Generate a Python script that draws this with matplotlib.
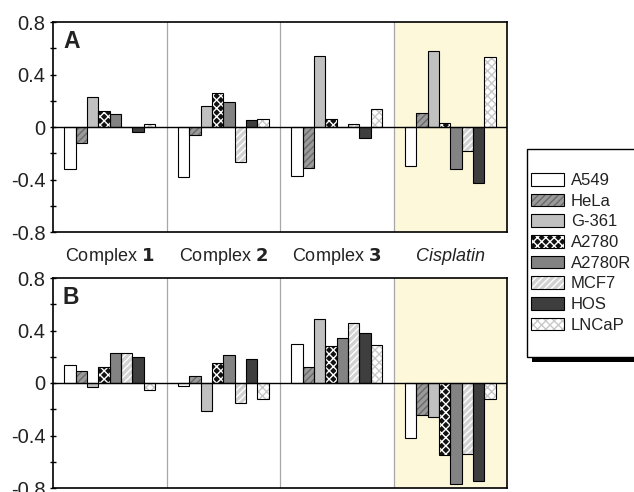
import numpy as np
import matplotlib
matplotlib.use("Agg")
import matplotlib.pyplot as plt
from matplotlib.patches import Rectangle, Patch

plt.rcParams['font.family'] = ['Liberation Sans', 'DejaVu Sans']
plt.rcParams['hatch.linewidth'] = 1.0

groups = ["Complex $\\mathbf{1}$", "Complex $\\mathbf{2}$", "Complex $\\mathbf{3}$", "Cisplatin"]
cells = ["A549", "HeLa", "G-361", "A2780", "A2780R", "MCF7", "HOS", "LNCaP"]

# rows = cell lines, columns = Complex 1, 2, 3, Cisplatin
vals_a = [
    [-0.32, -0.38, -0.37, -0.30],   # A549
    [-0.12, -0.06, -0.31, 0.11],    # HeLa
    [0.23, 0.16, 0.54, 0.58],       # G-361
    [0.12, 0.26, 0.06, 0.03],       # A2780
    [0.10, 0.19, 0.00, -0.32],      # A2780R
    [0.00, -0.27, 0.02, -0.18],     # MCF7
    [-0.04, 0.05, -0.08, -0.43],    # HOS
    [0.02, 0.06, 0.14, 0.53],       # LNCaP
]
vals_b = [
    [0.14, -0.02, 0.30, -0.42],
    [0.09, 0.05, 0.12, -0.24],
    [-0.03, -0.21, 0.49, -0.26],
    [0.12, 0.15, 0.28, -0.55],
    [0.23, 0.21, 0.34, -0.77],
    [0.23, -0.15, 0.46, -0.54],
    [0.20, 0.18, 0.38, -0.75],
    [-0.05, -0.12, 0.29, -0.12],
]

# face colour, hatch, hatch colour
styles = [
    ("white", "", "white"),
    ("#9a9a9a", "/////", "#6a6a6a"),
    ("#c0c0c0", "", "#c0c0c0"),
    ("#111111", "xxxx", "white"),
    ("#838383", "", "#838383"),
    ("#d2d2d2", "/////", "white"),
    ("#3e3e3e", "", "#3e3e3e"),
    ("white", "xxxx", "#c8c8c8"),
]

W, H = 634, 492
fig = plt.figure(figsize=(W / 100, H / 100), dpi=100)
ax_a = fig.add_axes([53 / W, 1 - 232 / H, 454 / W, 210 / H])
ax_b = fig.add_axes([53 / W, 1 - 488 / H, 454 / W, 210 / H])

x = np.arange(len(groups))
bw = 0.1

for ax, data, letter in [(ax_a, vals_a, "A"), (ax_b, vals_b, "B")]:
    ax.axvspan(2.5, 3.5, color="#fdf8d9", zorder=0)
    for d in [0.5, 1.5, 2.5]:
        ax.axvline(d, color="#a8a8a8", lw=0.9, zorder=1)
    for i, v in enumerate(data):
        fc, hatch, hc = styles[i]
        pos = x + (i - 3.5) * bw
        ax.bar(pos, v, bw, color=fc, hatch=hatch, edgecolor=hc, linewidth=0, zorder=2)
        ax.bar(pos, v, bw, facecolor="none", edgecolor="black", linewidth=0.8, zorder=3)
    ax.axhline(0, color="black", lw=1.0, zorder=4)
    ax.set_xlim(-0.5, 3.5)
    ax.set_ylim(-0.8, 0.8)
    ax.set_xticks([])
    ax.set_yticks(np.arange(-0.8, 0.81, 0.2))
    ax.set_yticklabels(["-0.8", "", "-0.4", "", "0", "", "0.4", "", "0.8"])
    ax.tick_params(axis="y", direction="inout", length=5, width=1, labelsize=14.5,
                   pad=3, labelcolor="#222222")
    for s in ax.spines.values():
        s.set_linewidth(1.2)
    ax.text(0.022, 0.96, letter, transform=ax.transAxes, fontsize=16.5, fontweight="bold",
            va="top", ha="left", color="#222222")

for g, lab in zip(x, groups):
    st = "italic" if lab == "Cisplatin" else "normal"
    ax_a.text(g, -0.115, lab, transform=ax_a.get_xaxis_transform(), ha="center",
              va="center", fontsize=13, style=st, color="#222222")

# legend box with shadow
fig.patches.append(Rectangle((532 / W, 1 - 362 / H), 120 / W, 210 / H, transform=fig.transFigure,
                             facecolor="black", edgecolor="none", zorder=1))
fig.patches.append(Rectangle((527 / W, 1 - 357 / H), 120 / W, 208 / H, transform=fig.transFigure,
                             facecolor="white", edgecolor="black", linewidth=1, zorder=2))

handles = []
for fc, hatch, hc in styles:
    handles.append((Patch(facecolor=fc, hatch=hatch, edgecolor=hc, linewidth=0),
                    Patch(facecolor="none", edgecolor="black", linewidth=0.8)))
leg = fig.legend(handles, cells, loc="upper left", bbox_to_anchor=(531 / W, 1 - 173 / H),
                 frameon=False, fontsize=12, handlelength=2.0, handleheight=0.8,
                 labelspacing=0.33, handletextpad=0.4, borderpad=0, borderaxespad=0)
for t in leg.get_texts():
    t.set_color("#222222")
leg.set_zorder(5)

fig.savefig("out.png", dpi=100)
